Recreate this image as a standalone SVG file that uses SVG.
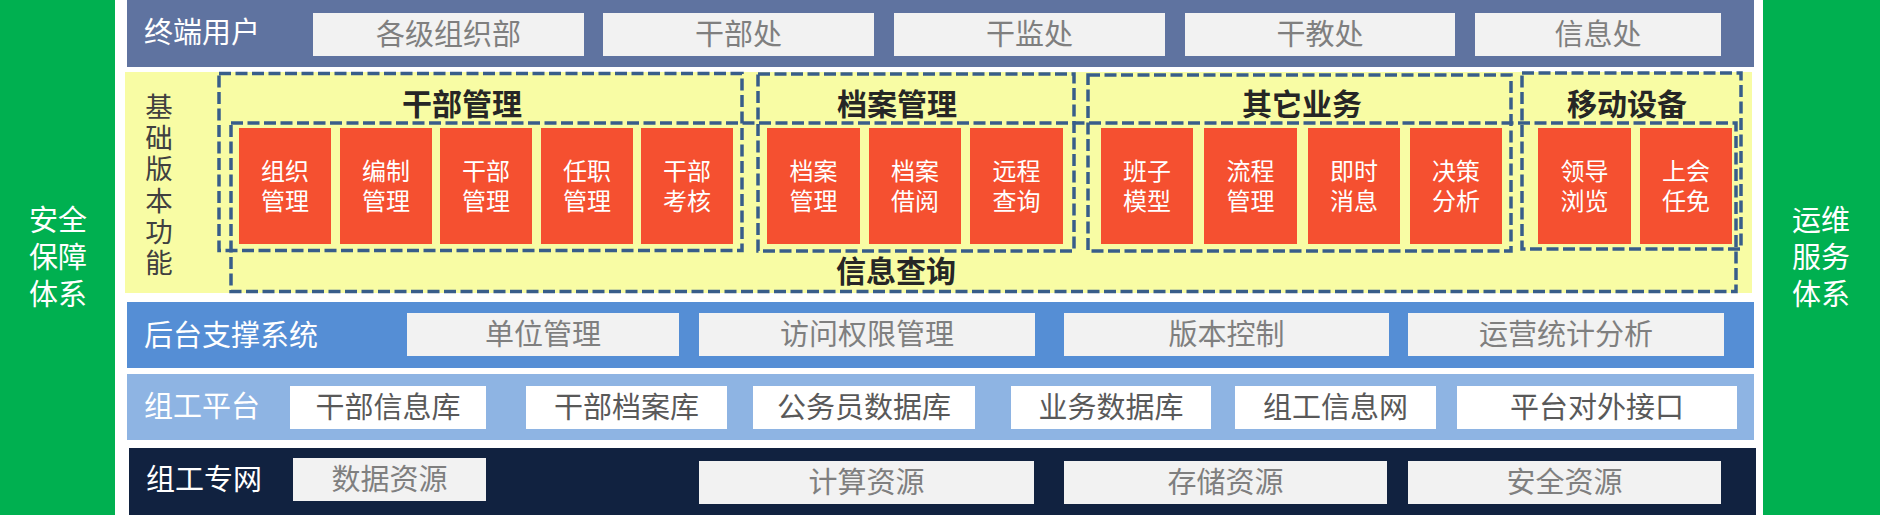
<svg xmlns="http://www.w3.org/2000/svg" width="1880" height="515" viewBox="0 0 1880 515">
<style>
text,tspan{font-family:"Liberation Sans","Noto Sans CJK SC",sans-serif;dominant-baseline:central}
text{text-anchor:middle}
.side{fill:#00B050}
.sidet{fill:#FFFFFF;font-size:29px}
.band1{fill:#5F73A0}
.band2{fill:#558ED5}
.band3{fill:#8EB4E3}
.band4{fill:#112240}
.lbl{fill:#FFFFFF;font-size:29px;text-anchor:start}
.gbox{fill:#F2F2F2}
.gt{fill:#7F7F7F;font-size:29px}
.wbox{fill:#FFFFFF}
.wt{fill:#595959;font-size:29px}
.yel{fill:#F8FCA4}
.dash{fill:none;stroke:#385D8A;stroke-width:3.5;stroke-dasharray:12 4.5}
.red{fill:#F55030}
.rt{fill:#FFFFFF;font-size:24px}
.title{fill:#262626;font-size:30px;font-weight:bold}
.vt{fill:#404040;font-size:27.5px}
</style>

<g id="safety">
<rect class="side" x="0" y="0" width="115" height="515"/>
<text class="sidet"><tspan x="58" y="221">安全</tspan><tspan x="58" y="258">保障</tspan><tspan x="58" y="295">体系</tspan></text>
</g>
<g id="ops">
<rect class="side" x="1763" y="0" width="117" height="515"/>
<text class="sidet"><tspan x="1821" y="221">运维</tspan><tspan x="1821" y="258">服务</tspan><tspan x="1821" y="295">体系</tspan></text>
</g>

<g id="terminal-users">
<rect class="band1" x="127" y="0" width="1627" height="67"/>
<text class="lbl" x="144" y="33">终端用户</text>
<rect class="gbox" x="313" y="13" width="271" height="43"/><text class="gt" x="448.5" y="34.5">各级组织部</text>
<rect class="gbox" x="603" y="13" width="271" height="43"/><text class="gt" x="738.5" y="34.5">干部处</text>
<rect class="gbox" x="894" y="13" width="271" height="43"/><text class="gt" x="1029.5" y="34.5">干监处</text>
<rect class="gbox" x="1185" y="13" width="270" height="43"/><text class="gt" x="1320" y="34.5">干教处</text>
<rect class="gbox" x="1475" y="13" width="246" height="43"/><text class="gt" x="1598" y="34.5">信息处</text>
</g>

<g id="basic-functions">
<rect class="yel" x="125" y="72" width="1627" height="221"/>
<text class="vt"><tspan x="159" y="107">基</tspan><tspan x="159" y="138.2">础</tspan><tspan x="159" y="169.4">版</tspan><tspan x="159" y="200.6">本</tspan><tspan x="159" y="231.8">功</tspan><tspan x="159" y="263">能</tspan></text>
</g>

<g id="info-query">
<rect class="dash" x="231" y="123" width="1505" height="168.5"/>
<text class="title" x="896" y="271">信息查询</text>
</g>

<g id="cadre-management">
<rect class="dash" x="219" y="73.5" width="523" height="177"/>
<text class="title" x="462" y="104">干部管理</text>
<rect class="red" x="239" y="128" width="92" height="116"/><text class="rt"><tspan x="285" y="171">组织</tspan><tspan x="285" y="201">管理</tspan></text>
<rect class="red" x="340" y="128" width="92" height="116"/><text class="rt"><tspan x="386" y="171">编制</tspan><tspan x="386" y="201">管理</tspan></text>
<rect class="red" x="440" y="128" width="92" height="116"/><text class="rt"><tspan x="486" y="171">干部</tspan><tspan x="486" y="201">管理</tspan></text>
<rect class="red" x="541" y="128" width="92" height="116"/><text class="rt"><tspan x="587" y="171">任职</tspan><tspan x="587" y="201">管理</tspan></text>
<rect class="red" x="641" y="128" width="92" height="116"/><text class="rt"><tspan x="687" y="171">干部</tspan><tspan x="687" y="201">考核</tspan></text>
</g>

<g id="archive-management">
<rect class="dash" x="758" y="74" width="316" height="177"/>
<text class="title" x="897" y="104">档案管理</text>
<rect class="red" x="767" y="128" width="93" height="116"/><text class="rt"><tspan x="813.5" y="171">档案</tspan><tspan x="813.5" y="201">管理</tspan></text>
<rect class="red" x="869" y="128" width="92" height="116"/><text class="rt"><tspan x="915" y="171">档案</tspan><tspan x="915" y="201">借阅</tspan></text>
<rect class="red" x="970" y="128" width="93" height="116"/><text class="rt"><tspan x="1016.5" y="171">远程</tspan><tspan x="1016.5" y="201">查询</tspan></text>
</g>

<g id="other-business">
<rect class="dash" x="1088" y="75" width="423" height="176"/>
<text class="title" x="1302" y="104">其它业务</text>
<rect class="red" x="1101" y="128" width="92" height="116"/><text class="rt"><tspan x="1147" y="171">班子</tspan><tspan x="1147" y="201">模型</tspan></text>
<rect class="red" x="1204" y="128" width="93" height="116"/><text class="rt"><tspan x="1250.5" y="171">流程</tspan><tspan x="1250.5" y="201">管理</tspan></text>
<rect class="red" x="1308" y="128" width="92" height="116"/><text class="rt"><tspan x="1354" y="171">即时</tspan><tspan x="1354" y="201">消息</tspan></text>
<rect class="red" x="1410" y="128" width="92" height="116"/><text class="rt"><tspan x="1456" y="171">决策</tspan><tspan x="1456" y="201">分析</tspan></text>
</g>

<g id="mobile-devices">
<rect class="dash" x="1522" y="73" width="219" height="176"/>
<text class="title" x="1627" y="104">移动设备</text>
<rect class="red" x="1538" y="128" width="93" height="116"/><text class="rt"><tspan x="1584.5" y="171">领导</tspan><tspan x="1584.5" y="201">浏览</tspan></text>
<rect class="red" x="1640" y="128" width="92" height="116"/><text class="rt"><tspan x="1686" y="171">上会</tspan><tspan x="1686" y="201">任免</tspan></text>
</g>

<g id="backend-support">
<rect class="band2" x="127" y="302" width="1627" height="66"/>
<text class="lbl" x="144" y="336">后台支撑系统</text>
<rect class="gbox" x="407" y="313" width="272" height="43"/><text class="gt" x="543" y="334.5">单位管理</text>
<rect class="gbox" x="699" y="313" width="336" height="43"/><text class="gt" x="867" y="334.5">访问权限管理</text>
<rect class="gbox" x="1064" y="313" width="325" height="43"/><text class="gt" x="1226.5" y="334.5">版本控制</text>
<rect class="gbox" x="1408" y="313" width="316" height="43"/><text class="gt" x="1566" y="334.5">运营统计分析</text>
</g>

<g id="org-platform">
<rect class="band3" x="127" y="374" width="1627" height="66"/>
<text class="lbl" x="144" y="407">组工平台</text>
<rect class="wbox" x="290" y="386" width="196" height="43"/><text class="wt" x="388" y="407.5">干部信息库</text>
<rect class="wbox" x="526" y="386" width="201" height="43"/><text class="wt" x="626.5" y="407.5">干部档案库</text>
<rect class="wbox" x="753" y="386" width="222" height="43"/><text class="wt" x="864" y="407.5">公务员数据库</text>
<rect class="wbox" x="1011" y="386" width="200" height="43"/><text class="wt" x="1111" y="407.5">业务数据库</text>
<rect class="wbox" x="1235" y="386" width="201" height="43"/><text class="wt" x="1335.5" y="407.5">组工信息网</text>
<rect class="wbox" x="1457" y="386" width="280" height="43"/><text class="wt" x="1597" y="407.5">平台对外接口</text>
</g>

<g id="org-network">
<rect class="band4" x="129" y="448" width="1627" height="67"/>
<text class="lbl" x="146" y="480">组工专网</text>
<rect class="gbox" x="293" y="458" width="193" height="43"/><text class="gt" x="389.5" y="479.5">数据资源</text>
<rect class="gbox" x="699" y="461" width="335" height="43"/><text class="gt" x="866.5" y="482.5">计算资源</text>
<rect class="gbox" x="1064" y="461" width="323" height="43"/><text class="gt" x="1225.5" y="482.5">存储资源</text>
<rect class="gbox" x="1408" y="461" width="313" height="43"/><text class="gt" x="1564.5" y="482.5">安全资源</text>
</g>
</svg>
